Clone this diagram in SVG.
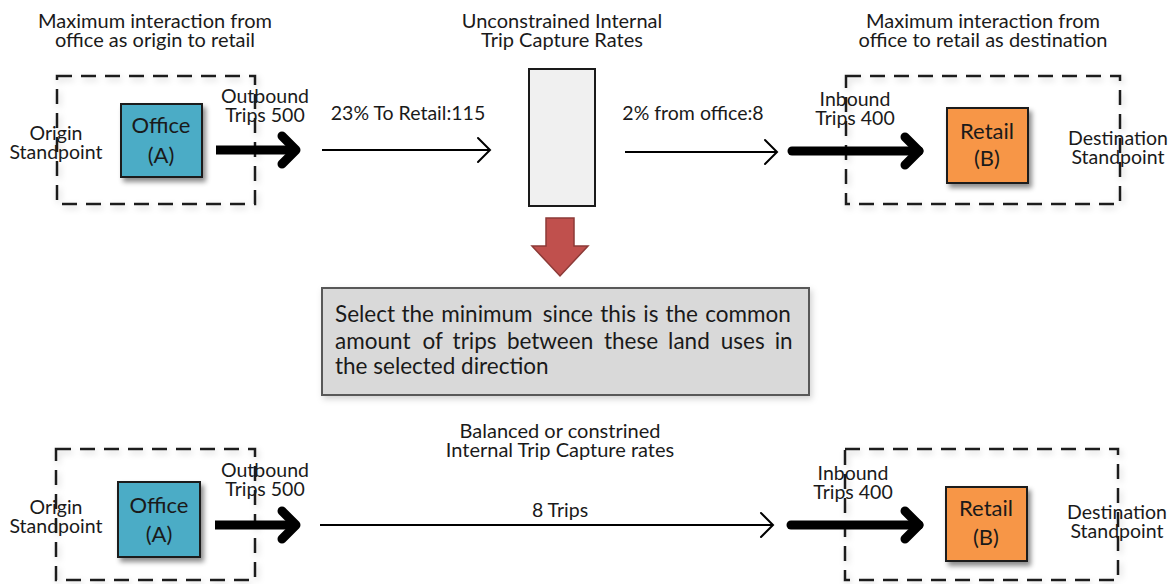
<svg xmlns="http://www.w3.org/2000/svg" width="1172" height="584" viewBox="0 0 1172 584">
  <style>
    text { font-family: Lato, "Open Sans", "Liberation Sans", sans-serif; fill: #1a1a1a; }
    .title { font-size: 20px; text-anchor: middle; }
    .lbl { font-size: 19.5px; text-anchor: middle; }
    .node-txt { font-size: 22px; text-anchor: middle; }
    .note { font-size: 22.5px; }
    .zone { fill: none; stroke: #1a1a1a; stroke-width: 2.5; stroke-dasharray: 15 9; }
    .office { fill: #4BACC6; stroke: #1a1a1a; stroke-width: 2; }
    .retail { fill: #F79646; stroke: #1a1a1a; stroke-width: 2; }
    .thin { stroke: #000; stroke-width: 2; fill: none; }
    .thick { stroke: #000; stroke-width: 9; fill: none; }
  </style>
  <defs>
    <filter id="shadow" x="-20%" y="-20%" width="150%" height="150%">
      <feDropShadow dx="3" dy="4" stdDeviation="2.5" flood-color="#000" flood-opacity="0.45"/>
    </filter>
    <filter id="soft" x="-10%" y="-10%" width="130%" height="130%">
      <feDropShadow dx="2" dy="3" stdDeviation="3" flood-color="#000" flood-opacity="0.18"/>
    </filter>
    <marker id="chev-thin" markerUnits="userSpaceOnUse" viewBox="-16 -16 20 32" refX="0" refY="0" markerWidth="20" markerHeight="32" orient="auto" overflow="visible">
      <path d="M-12,-12 L0,0 L-12,12" fill="none" stroke="#000" stroke-width="2" stroke-linecap="round"/>
    </marker>
    <marker id="chev-thick" markerUnits="userSpaceOnUse" viewBox="-24 -24 30 48" refX="0" refY="0" markerWidth="30" markerHeight="48" orient="auto" overflow="visible">
      <path d="M-14,-14 L0,0 L-14,14" fill="none" stroke="#000" stroke-width="9" stroke-linecap="round" stroke-linejoin="round"/>
    </marker>
  </defs>

  <!-- headings -->
  <g id="headings">
    <text class="title" x="155" y="28">Maximum interaction from<tspan x="155" dy="19">office as origin to retail</tspan></text>
    <text class="title" x="562" y="28">Unconstrained Internal<tspan x="562" dy="19">Trip Capture Rates</tspan></text>
    <text class="title" x="983" y="28">Maximum interaction from<tspan x="983" dy="19">office to retail as destination</tspan></text>
    <text class="title" x="560" y="438">Balanced or constrined<tspan x="560" dy="19">Internal Trip Capture rates</tspan></text>
  </g>

  <!-- upper row: unconstrained -->
  <g id="origin-top">
    <rect class="zone" x="57" y="76" width="198" height="128" filter="url(#soft)"/>
    <text class="lbl" x="56" y="140">Origin<tspan x="56" dy="19">Standpoint</tspan></text>
  </g>
  <g id="office-top">
    <rect class="office" x="121" y="104" width="81" height="73" filter="url(#shadow)"/>
    <text class="node-txt" x="161" y="133">Office</text>
    <text class="node-txt" x="161" y="163">(A)</text>
  </g>
  <g id="capture-top">
    <rect x="529" y="69" width="66" height="137" fill="#F0F0F0" stroke="#1a1a1a" stroke-width="2"/>
  </g>
  <g id="destination-top">
    <rect class="zone" x="846" y="76" width="274" height="128" filter="url(#soft)"/>
    <text class="lbl" x="1118" y="145">Destination<tspan x="1118" dy="19">Standpoint</tspan></text>
  </g>
  <g id="retail-top">
    <rect class="retail" x="947" y="108" width="81" height="75" filter="url(#shadow)"/>
    <text class="node-txt" x="987" y="139">Retail</text>
    <text class="node-txt" x="987" y="166">(B)</text>
  </g>

  <!-- summary box: justified words placed one by one -->
  <g id="minimum-rule">
    <polygon points="546,218 574,218 574,246 588,246 560,276 532,246 546,246" fill="#C0504D" stroke="#8C3A37" stroke-width="1.5"/>
    <rect x="322" y="288" width="487" height="107" fill="#D9D9D9" stroke="#595959" stroke-width="2" filter="url(#soft)"/>
    <text class="note" y="322"><tspan x="335">Select</tspan><tspan x="401.4">the</tspan><tspan x="441.2">minimum</tspan><tspan x="542.8">since</tspan><tspan x="600.3">this</tspan><tspan x="643.3">is</tspan><tspan x="665.4">the</tspan><tspan x="705.2">common</tspan></text>
    <text class="note" y="349"><tspan x="335">amount</tspan><tspan x="422.4">of</tspan><tspan x="452.6">trips</tspan><tspan x="506.9">between</tspan><tspan x="603.9">these</tspan><tspan x="668.1">land</tspan><tspan x="720.8">uses</tspan><tspan x="774.7">in</tspan></text>
    <text class="note" x="335" y="374">the selected direction</text>
  </g>

  <!-- lower row: balanced -->
  <g id="origin-bottom">
    <rect class="zone" x="56" y="449" width="199" height="131" filter="url(#soft)"/>
    <text class="lbl" x="56" y="514">Origin<tspan x="56" dy="19">Standpoint</tspan></text>
  </g>
  <g id="office-bottom">
    <rect class="office" x="118" y="482" width="82" height="75" filter="url(#shadow)"/>
    <text class="node-txt" x="159" y="513">Office</text>
    <text class="node-txt" x="159" y="542">(A)</text>
  </g>
  <g id="destination-bottom">
    <rect class="zone" x="845" y="449" width="273" height="131" filter="url(#soft)"/>
    <text class="lbl" x="1117" y="519">Destination<tspan x="1117" dy="19">Standpoint</tspan></text>
  </g>
  <g id="retail-bottom">
    <rect class="retail" x="946" y="487" width="81" height="74" filter="url(#shadow)"/>
    <text class="node-txt" x="986" y="516">Retail</text>
    <text class="node-txt" x="986" y="545">(B)</text>
  </g>

  <!-- connectors -->
  <g id="connectors">
    <line class="thick" x1="216" y1="150" x2="296" y2="150" marker-end="url(#chev-thick)"/>
    <line class="thin" x1="322" y1="150" x2="490" y2="150" marker-end="url(#chev-thin)"/>
    <line class="thin" x1="625" y1="152" x2="777" y2="152" marker-end="url(#chev-thin)"/>
    <line class="thick" x1="792" y1="151" x2="919" y2="151" stroke-linecap="round" marker-end="url(#chev-thick)"/>

    <line class="thick" x1="215" y1="525" x2="296" y2="525" marker-end="url(#chev-thick)"/>
    <line class="thin" x1="320" y1="525" x2="773" y2="525" marker-end="url(#chev-thin)"/>
    <line class="thick" x1="791" y1="525" x2="919" y2="525" stroke-linecap="round" marker-end="url(#chev-thick)"/>
  </g>

  <!-- connector labels -->
  <g id="connector-labels">
    <text class="lbl" x="265" y="103">Outbound<tspan x="265" dy="19">Trips 500</tspan></text>
    <text class="lbl" x="408" y="120">23% To Retail:115</text>
    <text class="lbl" x="693" y="120">2% from office:8</text>
    <text class="lbl" x="855" y="106">Inbound<tspan x="855" dy="19">Trips 400</tspan></text>

    <text class="lbl" x="265" y="477">Outbound<tspan x="265" dy="19">Trips 500</tspan></text>
    <text class="lbl" x="560" y="517">8 Trips</text>
    <text class="lbl" x="853" y="480">Inbound<tspan x="853" dy="19">Trips 400</tspan></text>
  </g>
</svg>
